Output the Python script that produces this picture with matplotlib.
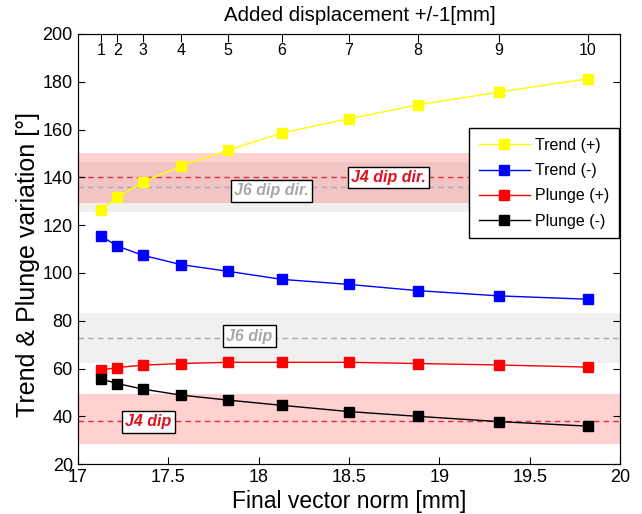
import matplotlib.pyplot as plt

plt.rcParams['font.family'] = ['Liberation Sans', 'DejaVu Sans']

# final vector norm [mm] for each added displacement step
vector_norm = [17.13, 17.22, 17.36, 17.57, 17.83, 18.13, 18.50, 18.88, 19.33, 19.82]
displacement = [1, 2, 3, 4, 5, 6, 7, 8, 9, 10]

trend_plus = [126.3, 131.8, 138.0, 144.7, 151.3, 158.6, 164.5, 170.3, 175.7, 181.2]
trend_minus = [115.4, 111.2, 107.4, 103.5, 100.7, 97.3, 95.2, 92.6, 90.4, 89.0]
plunge_plus = [59.4, 60.4, 61.4, 62.1, 62.6, 62.6, 62.6, 62.1, 61.5, 60.6]
plunge_minus = [55.6, 53.7, 51.4, 48.9, 46.8, 44.6, 42.0, 40.0, 37.8, 35.9]

# reference joint orientations (value, lower, upper)
j4_dipdir = (140.0, 129.3, 150.2)
j6_dipdir = (136.0, 125.3, 146.5)
j6_dip = (72.6, 62.4, 83.1)
j4_dip = (38.0, 28.4, 49.2)

fig = plt.figure(figsize=(6.42, 5.14), dpi=100)
ax = fig.add_axes([0.121, 0.097, 0.845, 0.837])

# bands: grey for J6, pink for J4
for val, lo, hi in (j6_dipdir, j6_dip):
    ax.axhspan(lo, hi, color='#e6e6e6', alpha=0.6, lw=0, zorder=0)
    ax.axhline(val, color='#aaaaaa', ls='--', lw=1, dashes=(4, 3), zorder=1)
for val, lo, hi in (j4_dipdir, j4_dip):
    ax.axhspan(lo, hi, color='#ff0000', alpha=0.18, lw=0, zorder=0.5)
    ax.axhline(val, color='#e03040', ls='--', lw=1, dashes=(4, 3), zorder=1)

box = dict(boxstyle='square,pad=0.2', fc='white', ec='black', lw=1)
lbl = dict(fontsize=11.5, fontweight='bold', style='italic', ha='center',
           va='center', bbox=box, zorder=3)
ax.text(18.72, j4_dipdir[0], 'J4 dip dir.', color='#e0101e', **lbl)
ax.text(18.07, 134.3, 'J6 dip dir.', color='#a8a8a8', **lbl)
ax.text(17.95, 73.6, 'J6 dip', color='#a8a8a8', **lbl)
ax.text(17.39, 37.7, 'J4 dip', color='#e0101e', **lbl)

series = [
    (trend_plus, '#ffff00', 'Trend (+)'),
    (trend_minus, '#0000ff', 'Trend (-)'),
    (plunge_plus, '#ff0000', 'Plunge (+)'),
    (plunge_minus, '#000000', 'Plunge (-)'),
]
for vals, col, lab in series:
    ax.plot(vector_norm, vals, color=col, lw=1, marker='s', ms=7.5,
            mfc=col, mec=col, label=lab, zorder=4)

ax.set_xlim(17, 20)
ax.set_ylim(20, 200)
ax.set_xticks([17, 17.5, 18, 18.5, 19, 19.5, 20])
ax.set_xticklabels(['17', '17.5', '18', '18.5', '19', '19.5', '20'])
ax.set_yticks(range(20, 201, 20))
ax.tick_params(direction='in', labelsize=13, length=5, right=True, top=False)
ax.set_xlabel('Final vector norm [mm]', fontsize=16.5, labelpad=3)
ax.set_ylabel('Trend & Plunge variation [°]', fontsize=18)
ax.yaxis.set_label_coords(-0.07, 0.463)
for s in ax.spines.values():
    s.set_color('#333333')

top = ax.twiny()
top.set_xlim(ax.get_xlim())
top.set_xticks(vector_norm)
top.set_xticklabels([str(d) for d in displacement])
top.tick_params(direction='in', length=6, labelsize=11.5, pad=-17)
top.set_xlabel('Added displacement +/-1[mm]', fontsize=14.7)
top.xaxis.set_label_coords(0.521, 1.03)

leg = ax.legend(loc='upper left', bbox_to_anchor=(0.722, 0.781), fontsize=11.5,
                handlelength=3.2, frameon=True, fancybox=False, borderpad=0.6,
                labelspacing=0.65, handletextpad=0.3, borderaxespad=0)
leg.get_frame().set_edgecolor('black')
leg.get_frame().set_alpha(1)
leg.set_zorder(5)

fig.savefig('out.png', dpi=100)
